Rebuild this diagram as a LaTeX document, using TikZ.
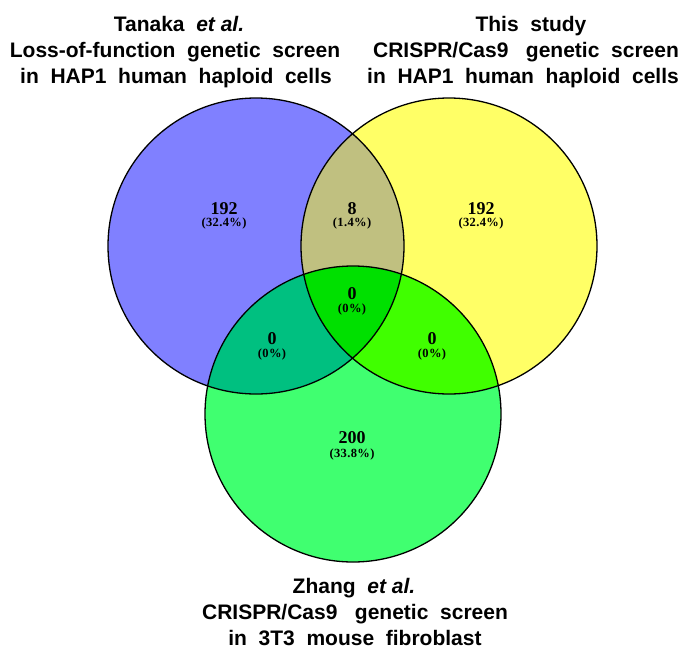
\documentclass[tikz,border=0pt]{standalone}
\usepackage{fontspec}
\setmainfont{Liberation Serif}
\newfontfamily\titlefont{Liberation Sans}
\definecolor{cblue}{RGB}{128,128,255}
\definecolor{cyellow}{RGB}{255,255,102}
\definecolor{cgreen}{RGB}{64,255,112}
\definecolor{colive}{RGB}{192,192,128}
\definecolor{cteal}{RGB}{0,192,128}
\definecolor{clime}{RGB}{64,255,0}
\definecolor{ccenter}{RGB}{0,224,0}
\tikzset{
  titleline/.style={anchor=base,inner sep=0pt,font=\titlefont\fontsize{21}{26}\selectfont\bfseries},
  count/.style={anchor=base,inner sep=0pt,font=\fontsize{18}{20}\selectfont\bfseries},
  pct/.style={anchor=base,inner sep=0pt,font=\fontsize{12.5}{14}\selectfont\bfseries\addfontfeature{LetterSpace=3}},
  outline/.style={draw=black,line width=1.3pt}
}
\begin{document}
\begin{tikzpicture}[x=1pt,y=-1pt]
\useasboundingbox (0,0) rectangle (688,648);
\coordinate (L) at (256,246);
\coordinate (R) at (449,246);
\coordinate (B) at (353,414);
\def\rad{148pt}
% base fills
\fill[cblue] (L) circle (\rad);
\fill[cyellow] (R) circle (\rad);
\fill[cgreen] (B) circle (\rad);
% pairwise intersections
\begin{scope}\clip (L) circle (\rad); \fill[colive] (R) circle (\rad);\end{scope}
\begin{scope}\clip (L) circle (\rad); \fill[cteal] (B) circle (\rad);\end{scope}
\begin{scope}\clip (R) circle (\rad); \fill[clime] (B) circle (\rad);\end{scope}
\begin{scope}\clip (L) circle (\rad); \clip (R) circle (\rad); \fill[ccenter] (B) circle (\rad);\end{scope}
% outlines
\draw[outline] (L) circle (\rad);
\draw[outline] (R) circle (\rad);
\draw[outline] (B) circle (\rad);
% titles
\node[titleline] (t1a) at (179,31) {Tanaka\ \ \textit{et al.}};
\node[titleline] (t1b) at (175,57) {Loss-of-function\ \ genetic\ \ screen};
\node[titleline] (t1c) at (176,83) {in\ \ HAP1\ \ human\ \ haploid\ \ cells};
\node[titleline] (t2a) at (531,31) {This\ \ study};
\node[titleline] (t2b) at (526,57) {CRISPR/Cas9\ \ \ genetic\ \ screen};
\node[titleline] (t2c) at (523,83) {in\ \ HAP1\ \ human\ \ haploid\ \ cells};
\node[titleline] (t3a) at (354,593) {Zhang\ \ \textit{et al.}};
\node[titleline] (t3b) at (355,619) {CRISPR/Cas9\ \ \ genetic\ \ screen};
\node[titleline] (t3c) at (355,645) {in\ \ 3T3\ \ mouse\ \ fibroblast};
% counts
\node[count] (nL) at (224,214) {192};
\node[pct] (pL) at (224,226) {(32.4\%)};
\node[count] (nLR) at (352,214) {8};
\node[pct] (pLR) at (352,226) {(1.4\%)};
\node[count] (nR) at (481,214) {192};
\node[pct] (pR) at (481,226) {(32.4\%)};
\node[count] (nC) at (352,299) {0};
\node[pct] (pC) at (352,312) {(0\%)};
\node[count] (nLB) at (272,344) {0};
\node[pct] (pLB) at (272,357) {(0\%)};
\node[count] (nRB) at (432,344) {0};
\node[pct] (pRB) at (432,357) {(0\%)};
\node[count] (nB) at (352,443) {200};
\node[pct] (pB) at (352,457) {(33.8\%)};
\end{tikzpicture}
\end{document}
